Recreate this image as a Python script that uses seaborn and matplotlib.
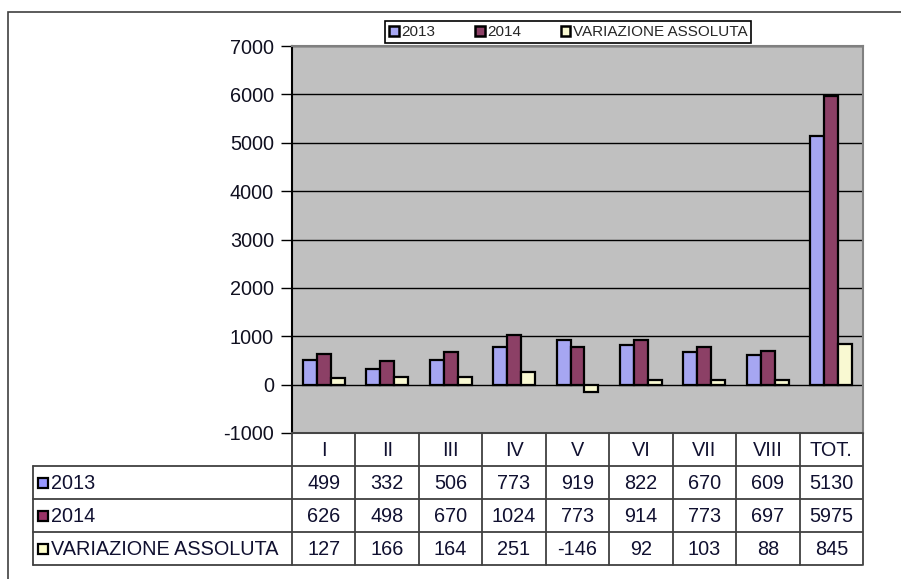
import numpy as np
import pandas as pd
import matplotlib
matplotlib.use('Agg')
import matplotlib.pyplot as plt
import matplotlib.transforms as mtransforms
from matplotlib.patches import Rectangle
from matplotlib.lines import Line2D
import seaborn as sns

# dati
categorie = ['I', 'II', 'III', 'IV', 'V', 'VI', 'VII', 'VIII', 'TOT.']
serie = ['2013', '2014', 'VARIAZIONE ASSOLUTA']
val_2013 = [499, 332, 506, 773, 919, 822, 670, 609, 5130]
val_2014 = [626, 498, 670, 1024, 773, 914, 773, 697, 5975]
val_var = [127, 166, 164, 251, -146, 92, 103, 88, 845]
colori = ['#9999FF', '#993366', '#FFFFCC']
y_ticks = [-1000, 0, 1000, 2000, 3000, 4000, 5000, 6000, 7000]

df = pd.DataFrame({
    'categoria': categorie * 3,
    'serie': [serie[0]] * 9 + [serie[1]] * 9 + [serie[2]] * 9,
    'valore': val_2013 + val_2014 + val_var,
})

sns.set_style('white')
plt.rcParams['font.family'] = ['Liberation Sans', 'DejaVu Sans']

W, H = 901, 579
fig = plt.figure(figsize=(W / 100, H / 100), dpi=100)


def fx(px):
    return px / W


def fy(py):
    return 1 - py / H


FS = 14.3

ax = fig.add_axes([fx(292), fy(433), fx(863) - fx(292), fy(46) - fy(433)])
ax.set_facecolor('#C0C0C0')
ax.set_axisbelow(True)

sns.barplot(data=df, x='categoria', y='valore', hue='serie', order=categorie,
            hue_order=serie, palette=colori, edgecolor='black', linewidth=1.6,
            width=0.66, ax=ax, legend=True)

ax.set_ylim(-1000, 7000)
ax.set_xlim(-0.5, len(categorie) - 0.5)
ax.set_yticks(y_ticks)
ax.set_yticklabels([str(t) for t in y_ticks], fontsize=FS, color='#101020')
ax.yaxis.grid(True, color='black', linewidth=1)
ax.set_xticks([])
ax.set_xlabel('')
ax.set_ylabel('')
ax.tick_params(axis='y', direction='out', length=8, width=1, color='black',
               left=True, pad=5)
for s in ['top', 'right', 'bottom']:
    ax.spines[s].set_color('#808080')
    ax.spines[s].set_linewidth(1.5)
ax.spines['left'].set_color('black')
ax.spines['left'].set_linewidth(1.5)

# legenda in alto
handles, labels = ax.get_legend_handles_labels()
ax.get_legend().remove()
for h in handles:
    h.set_linewidth(1.8)
leg = fig.legend(handles, labels, loc='center', ncol=3,
                 bbox_to_anchor=(fx(568), fy(32)), fontsize=11,
                 handlelength=0.65, handleheight=0.65, handletextpad=0.15,
                 columnspacing=2.6, fancybox=False, framealpha=1,
                 edgecolor='black', borderpad=0.25, borderaxespad=0)
leg.get_frame().set_linewidth(1.2)

# cornice esterna
fig.patches.append(Rectangle((fx(8), -0.1), 1.2, fy(12) + 0.1,
                             transform=fig.transFigure, fill=False,
                             edgecolor='#404040', linewidth=1.2))

# tabella dati
trans = mtransforms.blended_transform_factory(ax.transData, fig.transFigure)
righe_y = [433, 466, 499, 532, 565]
x_left, x_plot, x_right = 33, 292, 862
lc = '#404040'

# linee orizzontali
for i, y in enumerate(righe_y):
    x0 = x_plot if i == 0 else x_left
    fig.add_artist(Line2D([fx(x0), fx(x_right)], [fy(y), fy(y)],
                          color=lc, linewidth=1.3))
# linee verticali
for k in range(len(categorie) + 1):
    xx = k - 0.5
    fig.add_artist(Line2D([xx, xx], [fy(433), fy(565)], color=lc,
                          linewidth=1.3, transform=trans))
fig.add_artist(Line2D([fx(x_left), fx(x_left)], [fy(466), fy(565)],
                      color=lc, linewidth=1.3))

# intestazioni categorie
for i, c in enumerate(categorie):
    fig.text(i, fy(450), c, transform=trans, ha='center', va='center',
             fontsize=FS, color='#101030')

valori = [val_2013, val_2014, val_var]
for r, (nome, vals, col) in enumerate(zip(serie, valori, colori)):
    yc = (righe_y[r + 1] + righe_y[r + 2]) / 2
    fig.patches.append(Rectangle((fx(38), fy(yc + 5)), fx(10), fy(yc - 5) - fy(yc + 5),
                                 transform=fig.transFigure, facecolor=col,
                                 edgecolor='black', linewidth=1.6))
    fig.text(fx(51), fy(yc + 1), nome, ha='left', va='center', fontsize=FS,
             color='#101030')
    for i, v in enumerate(vals):
        fig.text(i, fy(yc + 1), str(v), transform=trans, ha='center',
                 va='center', fontsize=FS, color='#101030')

fig.savefig('out.png', dpi=100)
